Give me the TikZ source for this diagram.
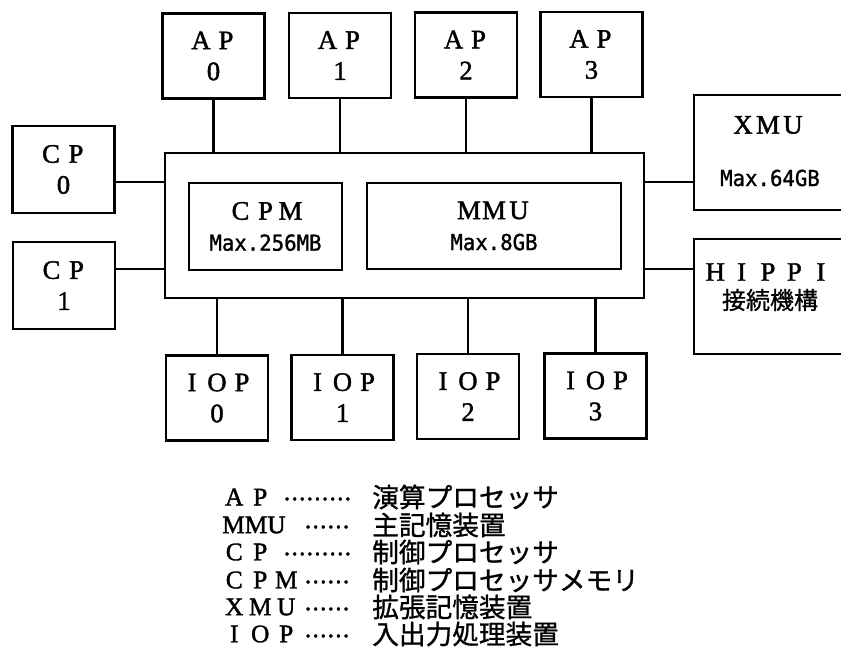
\documentclass[tikz,border=0pt]{standalone}
\usepackage{fontspec}
\newfontfamily\jpf[FakeBold=1]{Noto Sans CJK JP}
\newfontfamily\maxf[FakeStretch=0.94,FakeBold=1.2]{DejaVu Sans Mono}
\newfontfamily\serf[FakeBold=1.5]{Liberation Serif}
\newcommand{\fw}[1]{\makebox[18.75pt][c]{#1}}
\newcommand{\hw}[1]{\makebox[19.8pt][c]{#1}}
\newcommand{\lw}[1]{\makebox[19.5pt][c]{#1}}
\newcommand{\mx}[1]{{\maxf\fontsize{16.5pt}{20pt}\selectfont #1}}
\newcommand{\dotsrow}[1]{\hbox{\xleaders\hbox to 5.7pt{\hss.\hss}\hskip\dimexpr 5.7pt*#1\relax}}
\tikzset{
  blk/.style={draw, line width=2pt, inner sep=0pt, align=center, font=\serf\fontsize{20pt}{23.25pt}\selectfont},
  smallbox/.style={blk, minimum width=76.5pt, minimum height=63.75pt},
  link/.style={line width=1.8pt},
  txt/.style={inner sep=0pt, align=center},
  lgl/.style={txt, anchor=west, font=\serf\fontsize{19pt}{20pt}\selectfont},
  lgd/.style={txt, anchor=west, font=\serf\fontsize{19pt}{20pt}\selectfont},
  lgj/.style={txt, anchor=west, font=\jpf\fontsize{20pt}{22pt}\selectfont},
}
\begin{document}
\begin{tikzpicture}[x=0.75pt,y=-0.75pt]
\path[use as bounding box, clip] (0,0) rectangle (841,652);
\fill[white] (0,0) rectangle (841,652);

% AP boxes
\node[smallbox] (ap0) at (213.5,56) {\fw{A}\fw{P}\\0};
\node[smallbox] (ap1) at (340,55.5) {\fw{A}\fw{P}\\1};
\node[smallbox] (ap2) at (466,55) {\fw{A}\fw{P}\\2};
\node[smallbox] (ap3) at (591.5,54.5) {\fw{A}\fw{P}\\3};

% main unit
\node[blk, minimum width=479*0.75pt, minimum height=145*0.75pt] (main) at (404.5,225.5) {};
\node[blk, minimum width=153*0.75pt, minimum height=87*0.75pt] (cpm) at (265.5,226.5)
  {\fw{C}\fw{P}\fw{M}\\\mx{Max.256MB}};
\node[blk, minimum width=254*0.75pt, minimum height=86*0.75pt] (mmu) at (494,226)
  {\fw{M}\fw{M}\fw{U}\\\mx{Max.8GB}};

% CP boxes
\node[smallbox, minimum height=87*0.75pt] (cp0) at (63.5,169.5) {\fw{C}\fw{P}\\0};
\node[smallbox, minimum height=87*0.75pt] (cp1) at (64,285.5) {\fw{C}\fw{P}\\1};

% XMU and HIPPI
\node[blk, minimum width=150*0.75pt, minimum height=115*0.75pt] (xmu) at (769,152.5) {};
\node[txt, font=\serf\fontsize{20pt}{20pt}\selectfont] (xmut) at (768,125) {\fw{X}\fw{M}\fw{U}};
\node[txt] (xmum) at (770,178) {\mx{Max.64GB}};
\node[blk, minimum width=150*0.75pt, minimum height=115*0.75pt] (hippi) at (769,296.5) {};
\node[txt, font=\serf\fontsize{20pt}{20pt}\selectfont] (hippit) at (768,272) {\hw{H}\hw{I}\hw{P}\hw{P}\hw{I}};
\node[txt, font=\jpf\fontsize{18pt}{20pt}\selectfont] (hippij) at (770,300) {接続機構};

% IOP boxes
\node[smallbox] (iop0) at (217,398) {\fw{I}\fw{O}\fw{P}\\0};
\node[smallbox] (iop1) at (342.5,397.5) {\fw{I}\fw{O}\fw{P}\\1};
\node[smallbox] (iop2) at (468,396.5) {\fw{I}\fw{O}\fw{P}\\2};
\node[smallbox] (iop3) at (595.5,396) {\fw{I}\fw{O}\fw{P}\\3};

% connectors
\coordinate (ra) at (0,182);
\coordinate (rb) at (0,269);
\draw[link] (cp0.east |- ra) -- (main.west |- ra);
\draw[link] (cp1.east |- rb) -- (main.west |- rb);
\draw[link] (main.east |- ra) -- (xmu.west |- ra);
\draw[link] (main.east |- rb) -- (hippi.west |- rb);
\foreach \i in {0,...,3} {
  \draw[link] (ap\i.south) -- (ap\i.south |- main.north);
  \draw[link] (iop\i.north) -- (iop\i.north |- main.south);
}

% legend
\node[lgl] (lap) at (221,497) {\lw{A}\lw{P}};
\node[lgd] (dap) at (283,499) {\dotsrow{9}};
\node[lgj] (jap) at (372,497) {演算プロセッサ};

\node[lgl] (lmmu) at (222,525) {MMU};
\node[lgd] (dmmu) at (304,527) {\dotsrow{6}};
\node[lgj] (jmmu) at (372,525) {主記憶装置};

\node[lgl] (lcp) at (221,552) {\lw{C}\lw{P}};
\node[lgd] (dcp) at (283,554) {\dotsrow{9}};
\node[lgj] (jcp) at (372,552) {制御プロセッサ};

\node[lgl] (lcpm) at (221,580) {\lw{C}\lw{P}\lw{M}};
\node[lgd] (dcpm) at (304,582) {\dotsrow{6}};
\node[lgj] (jcpm) at (372,580) {制御プロセッサメモリ};

\node[lgl] (lxmu) at (221,607) {\lw{X}\lw{M}\lw{U}};
\node[lgd] (dxmu) at (304,609) {\dotsrow{6}};
\node[lgj] (jxmu) at (372,607) {拡張記憶装置};

\node[lgl] (liop) at (221,634) {\lw{I}\lw{O}\lw{P}};
\node[lgd] (diop) at (304,636) {\dotsrow{6}};
\node[lgj] (jiop) at (372,634) {入出力処理装置};
\end{tikzpicture}
\end{document}
